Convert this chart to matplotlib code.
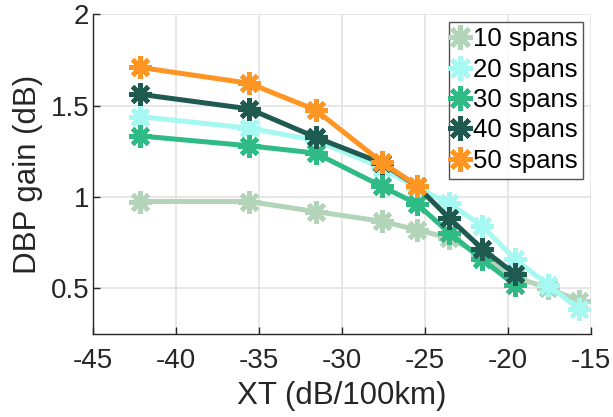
import matplotlib
matplotlib.use("Agg")
import matplotlib.pyplot as plt

plt.rcParams['font.family'] = ['Liberation Sans', 'DejaVu Sans']
plt.rcParams['axes.unicode_minus'] = False

# crosstalk levels (dB/100km)
xt = [-42.2, -35.6, -31.6, -27.6, -25.5, -23.55, -21.55, -19.6, -17.6, -15.7]

# DBP gain (dB) per number of spans
gain_10 = [0.975, 0.975, 0.92, 0.867, 0.82, 0.776, 0.68, 0.56, 0.503, 0.43]
gain_20 = [1.44, 1.376, 1.31, 1.16, 1.05, 0.967, 0.84, 0.662, 0.52, 0.385]
gain_30 = [1.334, 1.28, 1.24, 1.058, 0.963, 0.804, 0.658, 0.52]
gain_40 = [1.562, 1.482, 1.327, 1.185, 1.06, 0.885, 0.716, 0.58]
gain_50 = [1.709, 1.622, 1.476, 1.19, 1.062]

labels = ['10 spans', '20 spans', '30 spans', '40 spans', '50 spans']
colors = ['#b3d4b8', '#a6f8f2', '#2fbb86', '#1f5a50', '#ff9522']
series = [gain_10, gain_20, gain_30, gain_40, gain_50]

fig = plt.figure(figsize=(6.13, 4.17), dpi=100)
ax = fig.add_axes([0.152, 0.199, 0.812, 0.767])

for vals, lab, col in zip(series, labels, colors):
    ax.plot(xt[:len(vals)], vals, color=col, lw=3.6, marker=(8, 2, 0),
            markersize=16, markeredgewidth=3.4, markeredgecolor=col,
            label=lab, solid_capstyle='round')

ax.set_xlim(-45, -15)
ax.set_ylim(0.25, 2)
ax.set_xticks([-45, -40, -35, -30, -25, -20, -15])
ax.set_yticks([0.5, 1, 1.5, 2])
ax.set_yticklabels(['0.5', '1', '1.5', '2'])
ax.grid(True, color='#e3e3e3', lw=1.2)
ax.set_axisbelow(True)
for s in ['top', 'right']:
    ax.spines[s].set_visible(False)
for s in ['left', 'bottom']:
    ax.spines[s].set_color('#262626')
    ax.spines[s].set_linewidth(1.0)
ax.tick_params(direction='in', length=5, width=1, labelsize=20,
               colors='#262626', pad=10)
ax.tick_params(axis='y', pad=3)
ax.set_xlabel('XT (dB/100km)', fontsize=22.5, color='#262626', labelpad=5)
ax.set_ylabel('DBP gain (dB)', fontsize=22.5, color='#262626', labelpad=5)

leg = ax.legend(loc='upper right', bbox_to_anchor=(0.984, 0.977), fontsize=18.5,
                frameon=True, fancybox=False, edgecolor='#262626',
                handlelength=0.45, handletextpad=0.25, borderpad=0.22,
                labelspacing=0.25, borderaxespad=0.0, markerscale=1.1)
leg.get_frame().set_linewidth(1.0)
for h in leg.get_lines():
    h.set_linestyle('none')

fig.savefig('out.png', dpi=100)
